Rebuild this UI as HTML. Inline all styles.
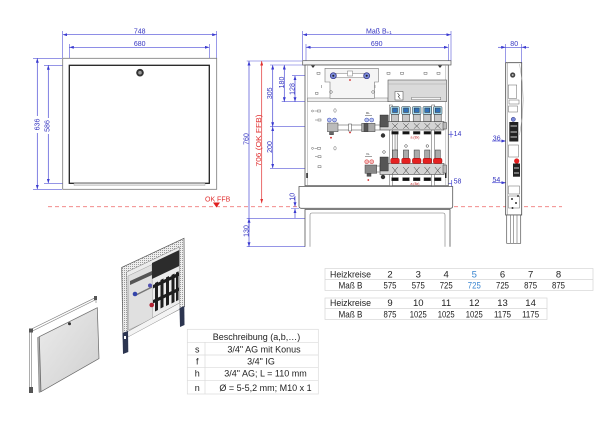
<!DOCTYPE html>
<html><head><meta charset="utf-8">
<style>
html,body{margin:0;padding:0;background:#fff;}
svg{display:block;}
text{font-family:"Liberation Sans",sans-serif;}
</style></head><body>
<svg width="600" height="425" viewBox="0 0 600 425" xmlns="http://www.w3.org/2000/svg">
<defs>
<marker id="a" viewBox="0 0 6 4" refX="6" refY="2" markerWidth="4.5" markerHeight="3" orient="auto-start-reverse" markerUnits="userSpaceOnUse"><path d="M0,0L6,2L0,4z" fill="#3a3ad0"/></marker>
<marker id="r" viewBox="0 0 6 4" refX="6" refY="2" markerWidth="4.5" markerHeight="3" orient="auto-start-reverse" markerUnits="userSpaceOnUse"><path d="M0,0L6,2L0,4z" fill="#e03030"/></marker>
<pattern id="hp" width="2" height="2" patternUnits="userSpaceOnUse"><rect width="2" height="2" fill="#eeeeee"/><rect width="1" height="1" fill="#9a9a9a"/></pattern>
<linearGradient id="dg" x1="0" y1="0" x2="1" y2="1"><stop offset="0" stop-color="#ececec"/><stop offset="1" stop-color="#cfcfcf"/></linearGradient>
</defs>

<!-- ===== LEFT DRAWING ===== -->
<g stroke="#5656d8" stroke-width="0.6" fill="none">
  <path d="M62.7,31V58M216.7,31V58M69.3,44V65M209.3,44V65M33,58.3H62M33,189.3H62M44,65.3H69M44,183.3H69"/>
</g>
<g stroke="#4b4bd6" stroke-width="0.7">
  <line x1="62.7" y1="34.7" x2="216.7" y2="34.7" marker-start="url(#a)" marker-end="url(#a)"/>
  <line x1="69.3" y1="47.3" x2="209.3" y2="47.3" marker-start="url(#a)" marker-end="url(#a)"/>
  <line x1="37.3" y1="116" x2="37.3" y2="58.3" marker-end="url(#a)"/>
  <line x1="37.3" y1="133" x2="37.3" y2="189.3" marker-end="url(#a)"/>
  <line x1="48.3" y1="118" x2="48.3" y2="65.3" marker-end="url(#a)"/>
  <line x1="48.3" y1="134" x2="48.3" y2="183.3" marker-end="url(#a)"/>
</g>
<g fill="#3535c0" font-size="7" text-anchor="middle">
  <text x="139.7" y="33.5">748</text>
  <text x="139.7" y="46.2">680</text>
  <text transform="translate(39.6,124.5) rotate(-90)">636</text>
  <text transform="translate(49.4,126) rotate(-90)">586</text>
</g>
<rect x="62.7" y="58.3" width="154" height="131" fill="#fff" stroke="#777" stroke-width="0.8"/>
<rect x="69.3" y="65.3" width="140" height="118" fill="#fff" stroke="#222" stroke-width="1.3"/>
<rect x="74" y="183.4" width="131" height="2" fill="#e2e2e2" stroke="#999" stroke-width="0.4"/>
<circle cx="140" cy="72.7" r="3.8" fill="#333"/>
<circle cx="140" cy="72.7" r="1.8" fill="#999"/>

<!-- red floor line -->
<line x1="48" y1="206.7" x2="562" y2="206.7" stroke="#f07a7a" stroke-width="0.8" stroke-dasharray="4,3"/>
<text x="205" y="201.5" font-size="7" fill="#e03030">OK FFB</text>
<path d="M213,202.5H220L216.5,207.5Z" fill="#e02020"/>

<!-- ===== MIDDLE DRAWING ===== -->
<g stroke="#5656d8" stroke-width="0.6" fill="none">
  <path d="M302.7,31V60.7M451,31V60.7M306,44V65M448.3,44V65"/>
  <path d="M246.7,61H302M270,65H305M292,75.7H331M281.7,101.7H305M270,126.7H328M270,168.3H366M246.7,218.3H305M246.7,246.7H305M291,208.5H299"/>
</g>
<g stroke="#4b4bd6" stroke-width="0.7">
  <line x1="302.7" y1="34.7" x2="451" y2="34.7" marker-start="url(#a)" marker-end="url(#a)"/>
  <line x1="306" y1="47.3" x2="448.3" y2="47.3" marker-start="url(#a)" marker-end="url(#a)"/>
  <line x1="249" y1="61" x2="249" y2="246.7" marker-start="url(#a)" marker-end="url(#a)"/>
  <line x1="249" y1="232" x2="249" y2="218.3" marker-end="url(#a)"/>
  <line x1="272.7" y1="65" x2="272.7" y2="126.7" marker-start="url(#a)" marker-end="url(#a)"/>
  <line x1="272.7" y1="126.7" x2="272.7" y2="168.3" marker-start="url(#a)" marker-end="url(#a)"/>
  <line x1="284.3" y1="65" x2="284.3" y2="101.7" marker-start="url(#a)" marker-end="url(#a)"/>
  <line x1="295" y1="75.7" x2="295" y2="101.7" marker-start="url(#a)" marker-end="url(#a)"/>
  <line x1="295" y1="196" x2="295" y2="206.7" marker-end="url(#a)"/>
  <line x1="295" y1="218" x2="295" y2="208.7" marker-end="url(#a)"/>
  <line x1="440" y1="134.3" x2="453.3" y2="134.3"/>
  <line x1="451" y1="131" x2="451" y2="137.5"/>
  <line x1="431.7" y1="183.3" x2="451.7" y2="183.3"/>
  <line x1="431.7" y1="178" x2="431.7" y2="187"/>
  <line x1="451.7" y1="180" x2="451.7" y2="186.5"/>
</g>
<g stroke="#e03030" stroke-width="0.7">
  <line x1="261.7" y1="61" x2="261.7" y2="203.3" marker-start="url(#r)" marker-end="url(#r)"/>
</g>
<g fill="#3535c0" font-size="7" text-anchor="middle">
  <text x="366" y="33.5" text-anchor="start">Maß B<tspan font-size="4.5" dy="0.3">+1</tspan></text>
  <text x="376.7" y="46.2">690</text>
  <text transform="translate(248.4,139) rotate(-90)">760</text>
  <text transform="translate(248.4,231) rotate(-90)">130</text>
  <text transform="translate(272.2,93.3) rotate(-90)">305</text>
  <text transform="translate(272.2,147) rotate(-90)">200</text>
  <text transform="translate(283.8,82.5) rotate(-90)">180</text>
  <text transform="translate(294.6,89) rotate(-90)">128</text>
  <text transform="translate(294.6,196.7) rotate(-90)">10</text>
  <text x="457.5" y="136">14</text>
  <text x="457.5" y="183.5">58</text>
</g>
<text transform="translate(261.1,140.5) rotate(-90)" font-size="7.5" fill="#e03030" text-anchor="middle" textLength="52" lengthAdjust="spacingAndGlyphs">706 (OK FFB)</text>

<!-- cabinet body -->
<rect x="302.7" y="60.7" width="148.3" height="4.3" fill="#f6f6f6" stroke="#555" stroke-width="0.7"/>
<rect x="305" y="65" width="143.3" height="120.7" fill="#fff" stroke="#555" stroke-width="0.8"/>
<line x1="307.5" y1="65" x2="307.5" y2="185.7" stroke="#999" stroke-width="0.5"/>
<line x1="445.8" y1="65" x2="445.8" y2="185.7" stroke="#999" stroke-width="0.5"/>
<path d="M311,65.5l2,2.5l2,-2.5zM438,65.5l2,2.5l2,-2.5z" fill="#333"/>
<rect x="307.5" y="98" width="80.5" height="3.7" fill="#f0f0f0" stroke="#777" stroke-width="0.5"/>
<!-- controller -->
<rect x="388" y="80" width="58.5" height="21.7" fill="#dadada" stroke="#555" stroke-width="0.6"/>
<line x1="388" y1="84" x2="446.5" y2="84" stroke="#999" stroke-width="0.4"/>
<rect x="395" y="91.5" width="8" height="8.5" fill="#fff" stroke="#444" stroke-width="0.5"/>
<path d="M397.5,93l2,2.5l-1.2,1l2,2.5" stroke="#333" fill="none" stroke-width="0.6"/>
<rect x="411.7" y="97.3" width="29" height="2.5" fill="#f4f4f4" stroke="#555" stroke-width="0.4"/>
<!-- top plate -->
<path d="M325,68.3H378.3V82H374.5V98.3H330V82H325Z" fill="#f5f5f5" stroke="#777" stroke-width="0.6"/>
<rect x="336" y="73.3" width="28" height="4.4" fill="#fff" stroke="#777" stroke-width="0.5"/>
<rect x="347.5" y="71" width="5" height="5" fill="#fff" stroke="#777" stroke-width="0.5"/>
<circle cx="333.3" cy="75.7" r="3" fill="#7a8ad8" stroke="#2a2a80" stroke-width="0.7"/>
<circle cx="366.7" cy="75.7" r="3" fill="#7a8ad8" stroke="#2a2a80" stroke-width="0.7"/>
<circle cx="333.3" cy="75.7" r="1" fill="#222"/>
<circle cx="366.7" cy="75.7" r="1" fill="#222"/>
<circle cx="350" cy="80" r="0.9" fill="#d02020"/>
<circle cx="331" cy="92" r="1.3" fill="none" stroke="#555" stroke-width="0.5"/>
<circle cx="373" cy="92" r="1.3" fill="none" stroke="#555" stroke-width="0.5"/>
<!-- small symbols -->
<g fill="none" stroke="#666" stroke-width="0.5">
  <rect x="317" y="72.3" width="3" height="2"/><rect x="387" y="72.3" width="3" height="2"/><rect x="400.5" y="72.3" width="3" height="2"/><rect x="424" y="72.3" width="3" height="2"/><rect x="437" y="72.3" width="3" height="2"/>
  <path d="M321.7,85v3M375,85v3"/><rect x="315.5" y="92.3" width="2.5" height="2"/>
  <circle cx="312.5" cy="111" r="1"/><path d="M314.5,111h2.5"/><rect x="317.5" y="110" width="3" height="2"/>
  <path d="M315,120h2.5"/><rect x="318" y="119" width="3" height="2"/>
  <ellipse cx="335" cy="110.5" rx="1.2" ry="1.8"/>
  <circle cx="312.5" cy="148.3" r="1"/><path d="M314.5,148.3h2.5"/><rect x="317.5" y="147.3" width="3" height="2"/>
  <ellipse cx="335" cy="148.3" rx="1.2" ry="1.8"/>
  <path d="M315,156.7h2.5"/><rect x="318" y="155.7" width="3" height="2"/>
  <rect x="318" y="165.7" width="3" height="2"/>
</g>
<rect x="306.3" y="173" width="1.5" height="5" fill="#222"/>
<rect x="445" y="173" width="1.5" height="5" fill="#222"/>

<!-- left pipe row -->
<g stroke="#444" stroke-width="0.5">
  <circle cx="329.3" cy="120" r="2" fill="#b8c4f0" stroke="#3040b0"/>
  <circle cx="334.5" cy="120" r="2" fill="#b8c4f0" stroke="#3040b0"/>
  <rect x="327.5" y="123" width="10.5" height="8.7" fill="#bbb"/>
  <rect x="329.5" y="131.7" width="4" height="3" fill="#666"/>
  <line x1="338" y1="125" x2="380" y2="125"/>
  <line x1="338" y1="130" x2="380" y2="130"/>
  <rect x="348.5" y="124" width="3" height="7" fill="#fff"/>
  <rect x="361.7" y="123.3" width="13.3" height="8.4" fill="#aaa"/>
  <rect x="364" y="123.3" width="4" height="8.4" fill="#555"/>
  <circle cx="366.7" cy="120" r="2" fill="#b8c4f0" stroke="#3040b0"/>
  <circle cx="371.7" cy="120" r="2" fill="#b8c4f0" stroke="#3040b0"/>
  <line x1="365" y1="115.5" x2="372" y2="115.5"/>
</g>
<circle cx="331" cy="137.7" r="0.9" fill="#d02020"/>
<circle cx="350" cy="132.5" r="0.9" fill="#d02020"/>
<text x="366" y="114" font-size="3" fill="#333">RL</text>
<!-- lower valve row -->
<g stroke="#444" stroke-width="0.5">
  <circle cx="366.7" cy="161.7" r="2" fill="#f4b8b8" stroke="#d03030"/>
  <circle cx="371.7" cy="161.7" r="2" fill="#f4b8b8" stroke="#d03030"/>
  <rect x="365" y="165" width="11.7" height="8.3" fill="#888"/>
  <rect x="367" y="173.3" width="4" height="3" fill="#555"/>
  <line x1="376.7" y1="166" x2="381" y2="166"/>
  <line x1="376.7" y1="172" x2="381" y2="172"/>
  <line x1="365" y1="156.5" x2="372" y2="156.5"/>
</g>
<circle cx="368.3" cy="180" r="0.9" fill="#d02020"/>
<text x="366" y="155" font-size="3" fill="#333">VL</text>

<!-- manifold rails -->
<g fill="#fff" stroke="#555" stroke-width="0.5">
  <rect x="389.3" y="105" width="3" height="80.7"/>
  <rect x="431.7" y="105" width="3" height="80.7"/>
  <rect x="395" y="134" width="2.5" height="16" fill="#eee"/>
</g>
<!-- supply manifold (blue) -->
<rect x="380" y="121.5" width="64" height="8.5" fill="#d4d4d4" stroke="#444" stroke-width="0.6"/>
<rect x="443" y="122.5" width="3.5" height="6.5" fill="#bbb" stroke="#444" stroke-width="0.5"/>
<rect x="380" y="115" width="8.3" height="12" fill="#555" stroke="#222" stroke-width="0.4"/>
<circle cx="383" cy="135.5" r="2.2" fill="#333"/>
<g stroke="#333" stroke-width="0.5">
  <g transform="translate(395,0)"><rect x="-4.3" y="106.5" width="8.6" height="8" rx="1" fill="#a8dcf2"/><rect x="-2.5" y="108" width="5" height="4.5" fill="#3070b8"/><rect x="-3.5" y="114.5" width="7" height="7" fill="#c8c8c8"/><path d="M-2.8,123.3l5.6,5.4M2.8,123.3l-5.6,5.4" fill="none"/><rect x="-3.3" y="131.5" width="6.6" height="2.6" fill="#111"/></g>
  <g transform="translate(406,0)"><rect x="-4.3" y="106.5" width="8.6" height="8" rx="1" fill="#a8dcf2"/><rect x="-2.5" y="108" width="5" height="4.5" fill="#3070b8"/><rect x="-3.5" y="114.5" width="7" height="7" fill="#c8c8c8"/><path d="M-2.8,123.3l5.6,5.4M2.8,123.3l-5.6,5.4" fill="none"/><rect x="-3.3" y="131.5" width="6.6" height="2.6" fill="#111"/></g>
  <g transform="translate(416.7,0)"><rect x="-4.3" y="106.5" width="8.6" height="8" rx="1" fill="#a8dcf2"/><rect x="-2.5" y="108" width="5" height="4.5" fill="#3070b8"/><rect x="-3.5" y="114.5" width="7" height="7" fill="#c8c8c8"/><path d="M-2.8,123.3l5.6,5.4M2.8,123.3l-5.6,5.4" fill="none"/><rect x="-3.3" y="131.5" width="6.6" height="2.6" fill="#111"/></g>
  <g transform="translate(427.3,0)"><rect x="-4.3" y="106.5" width="8.6" height="8" rx="1" fill="#a8dcf2"/><rect x="-2.5" y="108" width="5" height="4.5" fill="#3070b8"/><rect x="-3.5" y="114.5" width="7" height="7" fill="#c8c8c8"/><path d="M-2.8,123.3l5.6,5.4M2.8,123.3l-5.6,5.4" fill="none"/><rect x="-3.3" y="131.5" width="6.6" height="2.6" fill="#111"/></g>
  <g transform="translate(437.7,0)"><rect x="-4.3" y="106.5" width="8.6" height="8" rx="1" fill="#a8dcf2"/><rect x="-2.5" y="108" width="5" height="4.5" fill="#3070b8"/><rect x="-3.5" y="114.5" width="7" height="7" fill="#c8c8c8"/><path d="M-2.8,123.3l5.6,5.4M2.8,123.3l-5.6,5.4" fill="none"/><rect x="-3.3" y="131.5" width="6.6" height="2.6" fill="#111"/></g>
</g>
<text x="410.5" y="138.3" font-size="3.5" fill="#c02020">a (8x)</text>
<!-- return manifold (red) -->
<rect x="380" y="163.5" width="64" height="11" fill="#d4d4d4" stroke="#444" stroke-width="0.6"/>
<rect x="443" y="165" width="3.5" height="8" fill="#bbb" stroke="#444" stroke-width="0.5"/>
<rect x="380" y="157" width="8.3" height="14" fill="#555" stroke="#222" stroke-width="0.4"/>
<circle cx="383" cy="177" r="2.2" fill="#333"/>
<g stroke="#333" stroke-width="0.5">
  <g transform="translate(395,0)"><rect x="-2.6" y="150" width="5.2" height="8.3" fill="#aaa"/><rect x="-4.3" y="158.3" width="8.6" height="5.2" rx="1.5" fill="#e52020" stroke="#a01010"/><path d="M-2.8,167l5.6,7M2.8,167l-5.6,7" fill="none"/><rect x="-3.3" y="177.7" width="6.6" height="3" fill="#111"/></g>
  <g transform="translate(406,0)"><rect x="-2.6" y="150" width="5.2" height="8.3" fill="#aaa"/><rect x="-4.3" y="158.3" width="8.6" height="5.2" rx="1.5" fill="#e52020" stroke="#a01010"/><path d="M-2.8,167l5.6,7M2.8,167l-5.6,7" fill="none"/><rect x="-3.3" y="177.7" width="6.6" height="3" fill="#111"/></g>
  <g transform="translate(416.7,0)"><rect x="-2.6" y="150" width="5.2" height="8.3" fill="#aaa"/><rect x="-4.3" y="158.3" width="8.6" height="5.2" rx="1.5" fill="#e52020" stroke="#a01010"/><path d="M-2.8,167l5.6,7M2.8,167l-5.6,7" fill="none"/><rect x="-3.3" y="177.7" width="6.6" height="3" fill="#111"/></g>
  <g transform="translate(427.3,0)"><rect x="-2.6" y="150" width="5.2" height="8.3" fill="#aaa"/><rect x="-4.3" y="158.3" width="8.6" height="5.2" rx="1.5" fill="#e52020" stroke="#a01010"/><path d="M-2.8,167l5.6,7M2.8,167l-5.6,7" fill="none"/><rect x="-3.3" y="177.7" width="6.6" height="3" fill="#111"/></g>
  <g transform="translate(437.7,0)"><rect x="-2.6" y="150" width="5.2" height="8.3" fill="#aaa"/><rect x="-4.3" y="158.3" width="8.6" height="5.2" rx="1.5" fill="#e52020" stroke="#a01010"/><path d="M-2.8,167l5.6,7M2.8,167l-5.6,7" fill="none"/><rect x="-3.3" y="177.7" width="6.6" height="3" fill="#111"/></g>
  <circle cx="406" cy="146" r="1.3" fill="#fff"/><circle cx="427.3" cy="146" r="1.3" fill="#fff"/><circle cx="384" cy="152" r="1.3" fill="#fff"/>
</g>
<text x="410.5" y="184.8" font-size="3.5" fill="#c02020">a (8x)</text>

<!-- plinth and legs -->
<path d="M299,186.5H452.7V206Q452.7,208.3 450.4,208.3H301.3Q299,208.3 299,206Z" fill="#fff" stroke="#555" stroke-width="0.8"/>
<path d="M305,246.7V209.5H450V246.7" fill="none" stroke="#555" stroke-width="0.8"/>
<path d="M310,246.7V215Q310,213 312,213H443Q445,213 445,215V246.7" fill="none" stroke="#777" stroke-width="0.6"/>

<!-- ===== RIGHT SIDE DRAWING ===== -->
<g stroke="#5656d8" stroke-width="0.6" fill="none"><path d="M505.7,44V62.7M521.7,44V62.7"/></g>
<g stroke="#4b4bd6" stroke-width="0.7">
  <line x1="498" y1="47.3" x2="505.7" y2="47.3" marker-end="url(#a)"/>
  <line x1="529" y1="47.3" x2="521.7" y2="47.3" marker-end="url(#a)"/>
  <line x1="505.7" y1="47.3" x2="521.7" y2="47.3"/>
  <line x1="492" y1="141" x2="506" y2="141" marker-end="url(#a)"/>
  <line x1="506" y1="141" x2="518.3" y2="141"/>
  <line x1="492" y1="182.7" x2="506" y2="182.7" marker-end="url(#a)"/>
  <line x1="506" y1="182.7" x2="521.7" y2="182.7"/>
</g>
<g fill="#3535c0" font-size="7" text-anchor="middle">
  <text x="514.2" y="46.2">80</text>
  <text x="496.7" y="140.5">36</text>
  <text x="496.4" y="182.2">54</text>
</g>
<rect x="505.7" y="62.7" width="16" height="152.3" fill="#fff" stroke="#444" stroke-width="0.8"/>
<line x1="507.3" y1="62.7" x2="507.3" y2="215" stroke="#888" stroke-width="0.5"/>
<path d="M519.5,64Q527,100 519.5,135" fill="none" stroke="#aaa" stroke-width="0.5"/>
<circle cx="512.7" cy="75" r="2.6" fill="#444"/>
<circle cx="512.7" cy="75" r="1" fill="#bbb"/>
<g fill="none" stroke="#666" stroke-width="0.5">
  <rect x="508.3" y="85" width="8.4" height="13.3"/>
  <rect x="509" y="100" width="10" height="4"/>
  <rect x="508.5" y="106" width="9" height="6"/>
  <rect x="508.5" y="145" width="10" height="12"/>
  <rect x="508.5" y="186" width="11" height="8"/>
  <rect x="508.5" y="196" width="11" height="12"/>
</g>
<circle cx="513.3" cy="119.3" r="2.1" fill="#7a8ad8" stroke="#2a2a80" stroke-width="0.5"/>
<rect x="509.3" y="122" width="9" height="19.5" fill="#222"/>
<rect x="510.5" y="125" width="6.5" height="2" fill="#777"/><rect x="510.5" y="131" width="6.5" height="2" fill="#777"/><rect x="510.5" y="136" width="6.5" height="2" fill="#777"/>
<circle cx="516.7" cy="161" r="2.6" fill="#e52020"/>
<rect x="513" y="163.5" width="7" height="13.2" fill="#222"/>
<rect x="514" y="167" width="5" height="2" fill="#777"/><rect x="514" y="172" width="5" height="2" fill="#777"/>
<circle cx="512" cy="199" r="1" fill="#333"/><circle cx="516" cy="203" r="1" fill="#333"/><circle cx="512.5" cy="208" r="1" fill="#333"/><circle cx="518" cy="196" r="1" fill="#333"/>
<path d="M506.7,243.3V215H520.7V243.3Z" fill="#fff" stroke="#555" stroke-width="0.7"/>
<path d="M510.5,215V243.3M513.7,215V243.3M517,215V243.3" stroke="#666" stroke-width="0.6"/>

<!-- ===== 3D DOOR ===== -->
<g stroke="#777" stroke-width="0.6" fill="none">
  <path d="M29.5,330L96,297.3M31.5,331.5L96,299.5"/>
  <path d="M29.5,330V393M31.5,331.5V392"/>
  <path d="M96,297.3V303"/>
</g>
<path d="M29,328.5h4v4h-4zM29,387h4v6h-4zM94,296h3v4h-3z" fill="#555"/>
<polygon points="37.5,337.5 39.3,336.7 41,391.7 39,392.5" fill="#aaa" stroke="#666" stroke-width="0.4"/>
<polygon points="39.3,336.7 97.3,307.7 99,358.5 41,391.7" fill="url(#dg)" stroke="#666" stroke-width="0.7"/>
<circle cx="69.5" cy="323.8" r="1.5" fill="#333"/>

<!-- ===== 3D CABINET ===== -->
<polygon points="121.7,267.5 184,238.3 184.5,306.7 123,338.3" fill="url(#hp)" stroke="#555" stroke-width="0.7"/>
<polygon points="126.7,272 179.3,247 179.5,303 127.5,331.7" fill="#ececec" stroke="#777" stroke-width="0.5"/>
<polygon points="128,276 152,264.5 152.5,318.7 128.5,330" fill="#e0e0e0" stroke="#888" stroke-width="0.4"/>
<polygon points="152,263 179.3,250 179.3,266 152,279" fill="#2c2c2c"/>
<polygon points="130,281 152,271 152,275 130,285" fill="#555"/>
<g fill="#1e1e1e">
  <polygon points="155,283 158,281.5 158,310 155,311.5"/>
  <polygon points="160.5,280 163.5,278.5 163.5,307 160.5,308.5"/>
  <polygon points="166,277.5 169,276 169,304.5 166,306"/>
  <polygon points="171.5,275 174.5,273.5 174.5,302 171.5,303.5"/>
  <polygon points="176,272.5 178.5,271.3 178.5,300 176,301.2"/>
  <polygon points="153,285 179,272.5 179,276 153,288.5"/>
  <polygon points="153,300 179,287.5 179,291 153,303.5"/>
</g>
<line x1="136" y1="295" x2="152" y2="287" stroke="#777" stroke-width="1.5"/>
<circle cx="135" cy="294" r="2.3" fill="#3344aa"/>
<circle cx="150" cy="285.5" r="2" fill="#5050b0"/>
<circle cx="151.7" cy="305" r="2.3" fill="#b02030"/>
<polygon points="127.5,331.7 179.5,303 180,309 128,337" fill="#f4f4f4" stroke="#777" stroke-width="0.4"/>
<polygon points="122.5,333 128,331 128.3,352 123,354" fill="#2c3550"/>
<polygon points="179.5,308 184.3,306 184.5,325 180,327" fill="#2c3550"/>
<rect x="124" y="336" width="2" height="3" fill="#fff"/>

<!-- ===== HEIZKREISE TABLES ===== -->
<g stroke="#d6d6d6" stroke-width="0.7" fill="none">
  <rect x="325" y="268.5" width="268" height="22"/>
  <line x1="325" y1="279.5" x2="593" y2="279.5"/>
  <rect x="325" y="298" width="222" height="21.5"/>
  <line x1="325" y1="308.5" x2="547" y2="308.5"/>
</g>
<g font-size="9.5" fill="#222" text-anchor="middle">
  <text x="350.5" y="277.3" textLength="41" lengthAdjust="spacingAndGlyphs">Heizkreise</text>
  <text x="350.5" y="288.3" textLength="24" lengthAdjust="spacingAndGlyphs">Maß B</text>
  <text x="390" y="277.3">2</text><text x="418.3" y="277.3">3</text><text x="446.2" y="277.3">4</text><text x="474.3" y="277.3" fill="#3a86d0">5</text><text x="502.5" y="277.3">6</text><text x="530.6" y="277.3">7</text><text x="558.5" y="277.3">8</text>
  <text x="390" y="288.3" textLength="13" lengthAdjust="spacingAndGlyphs">575</text><text x="418.3" y="288.3" textLength="13" lengthAdjust="spacingAndGlyphs">575</text><text x="446.2" y="288.3" textLength="13" lengthAdjust="spacingAndGlyphs">725</text><text x="474.3" y="288.3" fill="#3a86d0" textLength="13" lengthAdjust="spacingAndGlyphs">725</text><text x="502.5" y="288.3" textLength="13" lengthAdjust="spacingAndGlyphs">725</text><text x="530.6" y="288.3" textLength="13" lengthAdjust="spacingAndGlyphs">875</text><text x="558.5" y="288.3" textLength="13" lengthAdjust="spacingAndGlyphs">875</text>
  <text x="350.5" y="306" textLength="41" lengthAdjust="spacingAndGlyphs">Heizkreise</text>
  <text x="350.5" y="317.3" textLength="24" lengthAdjust="spacingAndGlyphs">Maß B</text>
  <text x="390" y="306">9</text><text x="418.3" y="306">10</text><text x="446.2" y="306">11</text><text x="474.3" y="306">12</text><text x="502.5" y="306">13</text><text x="530.6" y="306">14</text>
  <text x="390" y="317.3" textLength="13" lengthAdjust="spacingAndGlyphs">875</text><text x="418.3" y="317.3" textLength="17" lengthAdjust="spacingAndGlyphs">1025</text><text x="446.2" y="317.3" textLength="17" lengthAdjust="spacingAndGlyphs">1025</text><text x="474.3" y="317.3" textLength="17" lengthAdjust="spacingAndGlyphs">1025</text><text x="502.5" y="317.3" textLength="17" lengthAdjust="spacingAndGlyphs">1175</text><text x="530.6" y="317.3" textLength="17" lengthAdjust="spacingAndGlyphs">1175</text>
</g>

<!-- ===== BESCHREIBUNG TABLE ===== -->
<g stroke="#dadada" stroke-width="0.7" fill="none">
  <rect x="187.3" y="329.3" width="131" height="64.7"/>
  <path d="M187.3,342.3H318.3M187.3,355H318.3M187.3,367.7H318.3M187.3,380.7H318.3M205,342.3V394"/>
</g>
<g font-size="9" fill="#222" text-anchor="middle">
  <text x="256.5" y="339.8">Beschreibung (a,b,…)</text>
  <text x="197.3" y="352.5">s</text>
  <text x="197.3" y="364.5">f</text>
  <text x="197.3" y="376.7">h</text>
  <text x="197.3" y="391">n</text>
  <text x="264" y="352.5">3/4" AG mit Konus</text>
  <text x="261" y="364.5">3/4" IG</text>
  <text x="265.5" y="376.7">3/4" AG; L = 110 mm</text>
  <text x="265.5" y="391">Ø = 5-5,2 mm; M10 x 1</text>
</g>
</svg>
</body></html>
